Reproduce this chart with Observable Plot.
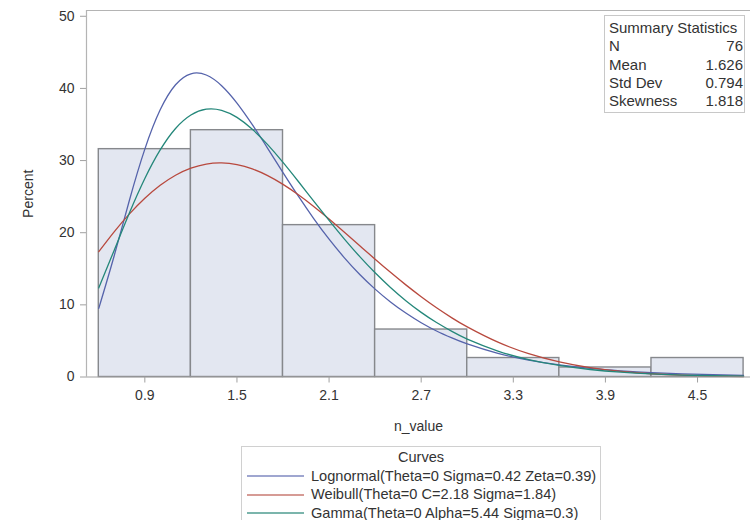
<!DOCTYPE html>
<html>
<head>
<meta charset="utf-8">
<script src="https://cdn.jsdelivr.net/npm/d3@7"></script>
<script src="https://cdn.jsdelivr.net/npm/@observablehq/plot@0.6"></script>
<style>
  html, body { margin: 0; padding: 0; background: #fff; }
  body { width: 750px; height: 520px; overflow: hidden; position: relative; font-family: "Liberation Sans", Arial, sans-serif; color: #333; }
  #stats { position: absolute; left: 604px; top: 15px; width: 141px; height: 98px; border: 1px solid #c8c8c8; background: #fff; font-size: 15px; box-sizing: border-box; padding: 3px 1px 0 4px; }
  #stats .row { display: flex; justify-content: space-between; height: 18.3px; line-height: 18.3px; white-space: nowrap; }
  #legend { position: absolute; left: 241px; top: 446px; width: 360px; height: 90px; border: 1px solid #d0d0d0; box-sizing: border-box; font-size: 14.6px; }
  #legend .title { text-align: center; height: 18.5px; line-height: 18.5px; margin-top: 1px; }
  #legend .item { display: flex; align-items: center; height: 18.7px; line-height: 18.7px; white-space: nowrap; }
  #legend svg { margin-left: 5px; margin-right: 7px; }
</style>
</head>
<body>
<div id="chart"></div>
<div id="stats"></div>
<div id="legend"></div>
<script>
// Histogram bins (n_value) and percentages
const binStart = [0.6, 1.2, 1.8, 2.4, 3.0, 3.6, 4.2];
const binEnd   = [1.2, 1.8, 2.4, 3.0, 3.6, 4.2, 4.8];
const binPercent = [31.58, 34.21, 21.05, 6.58, 2.63, 1.32, 2.63];

// Curve sample positions and values (percent)
const curveX = [0.6,0.7,0.8,0.9,1.0,1.1,1.2,1.3,1.4,1.5,1.6,1.7,1.8,1.9,2.0,2.1,2.2,2.3,2.4,2.5,2.6,2.7,2.8,2.9,3.0,3.2,3.4,3.6,3.8,4.0,4.2,4.4,4.6,4.8];
const lognormalY = [9.52,16.77,24.54,31.59,37.03,40.51,42.03,41.86,40.38,37.97,34.98,31.70,28.34,25.06,21.96,19.10,16.52,14.21,12.18,10.40,8.86,7.52,6.38,5.41,4.58,3.27,2.34,1.67,1.19,0.86,0.61,0.44,0.32,0.23];
const weibullY = [17.37,20.12,22.61,24.77,26.57,27.97,28.95,29.52,29.67,29.44,28.84,27.91,26.70,25.26,23.64,21.89,20.05,18.19,16.33,14.51,12.77,11.13,9.60,8.20,6.95,4.83,3.24,2.09,1.30,0.78,0.45,0.25,0.13,0.07];
const gammaY = [12.35,17.55,22.76,27.51,31.47,34.45,36.32,37.13,36.97,35.99,34.34,32.21,29.75,27.10,24.38,21.70,19.11,16.68,14.44,12.41,10.58,8.96,7.55,6.32,5.26,3.60,2.42,1.60,1.04,0.67,0.43,0.27,0.17,0.11];

const curveNames = ["Lognormal(Theta=0 Sigma=0.42 Zeta=0.39)", "Weibull(Theta=0 C=2.18 Sigma=1.84)", "Gamma(Theta=0 Alpha=5.44 Sigma=0.3)"];
const curveColors = ["#5563ab", "#b8493e", "#24877a"];
const legendColors = ["#7f89c0", "#c87a72", "#4f9c90"];

const xTicks = [0.9, 1.5, 2.1, 2.7, 3.3, 3.9, 4.5];
const yTicks = [0, 10, 20, 30, 40, 50];
const xDomain = [0.52, 4.845];
const yDomain = [0, 50.8];

const statLabels = ["N", "Mean", "Std Dev", "Skewness"];
const statValues = ["76", "1.626", "0.794", "1.818"];

const bins = binStart.map((s, i) => ({x1: s, x2: binEnd[i], y: binPercent[i]}));
const curveSeries = [lognormalY, weibullY, gammaY];
const curves = curveSeries.flatMap((ys, k) => curveX.map((x, i) => ({x, y: ys[i], name: curveNames[k]})));

const plot = Plot.plot({
  width: 750,
  height: 440,
  marginLeft: 86,
  marginRight: 0,
  marginTop: 10,
  marginBottom: 63.5,
  style: {fontFamily: "'Liberation Sans', Arial, sans-serif", fontSize: "14px", color: "#333", background: "transparent"},
  x: {domain: xDomain},
  y: {domain: yDomain},
  color: {domain: curveNames, range: curveColors},
  marks: [
    Plot.rect(bins, {x1: "x1", x2: "x2", y1: 0, y2: "y", fill: "#e3e7f1", stroke: "#86888c", strokeWidth: 1.4}),
    Plot.line(curves, {x: "x", y: "y", z: "name", stroke: "name", strokeWidth: 1.3, curve: "natural"}),
    Plot.ruleY([yDomain[1]], {stroke: "#b4b4b4", strokeWidth: 1.2}),
    Plot.ruleX([xDomain[0]], {stroke: "#b4b4b4", strokeWidth: 1.2}),
    Plot.ruleY([0], {stroke: "#a0a0a0", strokeWidth: 1.2}),
    Plot.axisX({ticks: xTicks, tickFormat: d3.format(".1f"), tickSize: 6, tickPadding: 7, stroke: "#a0a0a0", label: "n_value", labelAnchor: "center", labelArrow: "none", labelOffset: 54, fontSize: 14}),
    Plot.axisY({ticks: yTicks, tickSize: 6, tickPadding: 6, stroke: "#a0a0a0", label: "Percent", labelAnchor: "center", labelArrow: "none", labelOffset: 63, fontSize: 14})
  ]
});
document.getElementById("chart").appendChild(plot);

// Summary statistics inset
const stats = document.getElementById("stats");
const head = document.createElement("div");
head.className = "row";
head.textContent = "Summary Statistics";
stats.appendChild(head);
statLabels.forEach((l, i) => {
  const r = document.createElement("div");
  r.className = "row";
  r.innerHTML = `<span>${l}</span><span>${statValues[i]}</span>`;
  stats.appendChild(r);
});

// Legend
const legend = document.getElementById("legend");
const t = document.createElement("div");
t.className = "title";
t.textContent = "Curves";
legend.appendChild(t);
curveNames.forEach((n, i) => {
  const it = document.createElement("div");
  it.className = "item";
  it.innerHTML = `<svg width="57" height="4"><line x1="0" x2="57" y1="2" y2="2" stroke="${legendColors[i]}" stroke-width="1.5"/></svg><span>${n}</span>`;
  legend.appendChild(it);
});
</script>
</body>
</html>
